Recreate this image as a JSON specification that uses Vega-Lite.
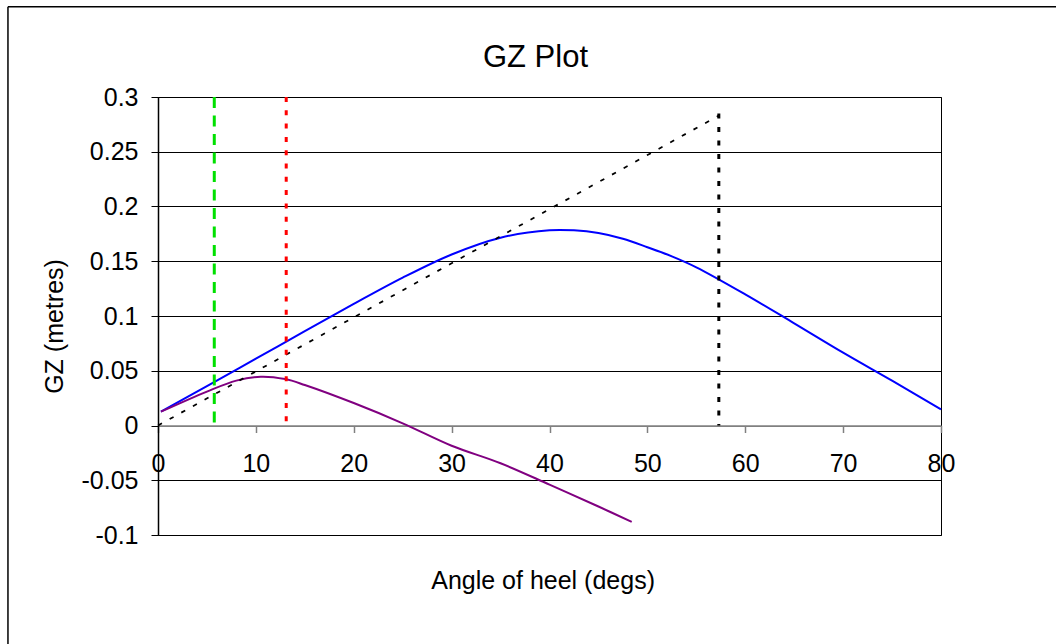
{
  "$schema": "https://vega.github.io/schema/vega-lite/v6.json",
  "width": 783,
  "height": 438,
  "autosize": {"type": "none"},
  "padding": {"left": 158, "top": 97, "right": 115, "bottom": 109},
  "background": "white",
  "title": {
    "text": "GZ Plot",
    "font": "Liberation Sans",
    "fontSize": 31,
    "fontWeight": "normal",
    "color": "#000000",
    "anchor": "middle",
    "baseline": "alphabetic",
    "dx": -14,
    "offset": -92
  },
  "config": {
    "view": {"stroke": "#000000", "strokeWidth": 1},
    "font": "Liberation Sans"
  },
  "datasets": {
    "curves": [
      {"series": "GZ", "angle": 0.3, "gz": 0.0126},
      {"series": "GZ", "angle": 5, "gz": 0.036},
      {"series": "GZ", "angle": 10, "gz": 0.061},
      {"series": "GZ", "angle": 15, "gz": 0.0862},
      {"series": "GZ", "angle": 20, "gz": 0.111},
      {"series": "GZ", "angle": 25, "gz": 0.135},
      {"series": "GZ", "angle": 30, "gz": 0.1562},
      {"series": "GZ", "angle": 35, "gz": 0.1715},
      {"series": "GZ", "angle": 40, "gz": 0.1783},
      {"series": "GZ", "angle": 42.5, "gz": 0.1782},
      {"series": "GZ", "angle": 45, "gz": 0.1757},
      {"series": "GZ", "angle": 47.5, "gz": 0.1705},
      {"series": "GZ", "angle": 50, "gz": 0.1628},
      {"series": "GZ", "angle": 52.5, "gz": 0.1545},
      {"series": "GZ", "angle": 55, "gz": 0.1445},
      {"series": "GZ", "angle": 60, "gz": 0.1198},
      {"series": "GZ", "angle": 65, "gz": 0.0933},
      {"series": "GZ", "angle": 70, "gz": 0.0665},
      {"series": "GZ", "angle": 75, "gz": 0.0409},
      {"series": "GZ", "angle": 80, "gz": 0.0148},
      {"series": "GZ2", "angle": 0.3, "gz": 0.0126},
      {"series": "GZ2", "angle": 5, "gz": 0.031},
      {"series": "GZ2", "angle": 8, "gz": 0.041},
      {"series": "GZ2", "angle": 10.5, "gz": 0.0446},
      {"series": "GZ2", "angle": 13, "gz": 0.0424},
      {"series": "GZ2", "angle": 15, "gz": 0.037},
      {"series": "GZ2", "angle": 20, "gz": 0.0205},
      {"series": "GZ2", "angle": 25, "gz": 0.002},
      {"series": "GZ2", "angle": 30, "gz": -0.0185},
      {"series": "GZ2", "angle": 35, "gz": -0.0345},
      {"series": "GZ2", "angle": 40, "gz": -0.054},
      {"series": "GZ2", "angle": 45, "gz": -0.074},
      {"series": "GZ2", "angle": 48.4, "gz": -0.088}
    ],
    "segments": [
      {"series": "GM", "angle": 0, "gz": 0},
      {"series": "GM", "angle": 57.3, "gz": 0.283},
      {"series": "GMvert", "angle": 57.3, "gz": 0.285},
      {"series": "GMvert", "angle": 57.3, "gz": 0},
      {"series": "Green", "angle": 5.75, "gz": 0.3},
      {"series": "Green", "angle": 5.75, "gz": 0},
      {"series": "Red", "angle": 13.1, "gz": 0.3},
      {"series": "Red", "angle": 13.1, "gz": 0}
    ],
    "frame": [{"part": "border"}]
  },
  "layer": [
    {
      "data": {"name": "curves"},
      "transform": [{"filter": "datum.series === 'GZ'"}],
      "mark": {"type": "line", "interpolate": "catmull-rom", "color": "#0000FF", "strokeWidth": 2},
      "encoding": {
        "x": {
          "field": "angle",
          "type": "quantitative",
          "scale": {"domain": [0, 80], "nice": false, "zero": false},
          "axis": {
            "title": "Angle of heel (degs)",
            "titleFont": "Liberation Sans",
            "titleFontSize": 25,
            "titleFontWeight": "normal",
            "titleColor": "#000000",
            "titleX": 384.6,
            "titleY": 162.5,
            "titleAlign": "center",
            "titleBaseline": "alphabetic",
            "titleAnchor": null,
            "offset": -109.5,
            "values": [0, 10, 20, 30, 40, 50, 60, 70, 80],
            "grid": false,
            "domainColor": "#808080",
            "domainWidth": 1.5,
            "tickColor": "#808080",
            "tickWidth": 1.5,
            "tickSize": 7,
            "labelFont": "Liberation Sans",
            "labelFontSize": 25,
            "labelColor": "#000000",
            "labelBaseline": "alphabetic",
            "labelPadding": 38.5,
            "labelFlush": false,
            "labelOverlap": false
          }
        },
        "y": {
          "field": "gz",
          "type": "quantitative",
          "scale": {"domain": [-0.1, 0.3], "nice": false, "zero": false},
          "axis": {
            "title": "GZ (metres)",
            "titleFont": "Liberation Sans",
            "titleFontSize": 25,
            "titleFontWeight": "normal",
            "titleColor": "#000000",
            "titleX": -96,
            "titleY": 229,
            "titleAlign": "center",
            "titleBaseline": "alphabetic",
            "titleAngle": -90,
            "values": [-0.1, -0.05, 0, 0.05, 0.1, 0.15, 0.2, 0.25, 0.3],
            "labelExpr": "'' + datum.value",
            "grid": true,
            "gridColor": {"condition": {"test": "datum.value === 0", "value": "#808080"}, "value": "#000000"},
            "gridWidth": 1,
            "domainColor": "#000000",
            "domainWidth": 1.5,
            "tickColor": "#000000",
            "tickWidth": 1,
            "tickSize": 7,
            "labelFont": "Liberation Sans",
            "labelFontSize": 25,
            "labelColor": "#000000",
            "labelBaseline": "middle",
            "labelPadding": 13,
            "labelFlush": false,
            "labelOverlap": false
          }
        }
      }
    },
    {
      "data": {"name": "curves"},
      "transform": [{"filter": "datum.series === 'GZ2'"}],
      "mark": {"type": "line", "interpolate": "catmull-rom", "color": "#800080", "strokeWidth": 2},
      "encoding": {
        "x": {"field": "angle", "type": "quantitative"},
        "y": {"field": "gz", "type": "quantitative"}
      }
    },
    {
      "data": {"name": "segments"},
      "transform": [{"filter": "datum.series === 'GM'"}],
      "mark": {"type": "line", "color": "#000000", "strokeWidth": 1.75, "strokeDash": [4.5, 8.8]},
      "encoding": {
        "x": {"field": "angle", "type": "quantitative"},
        "y": {"field": "gz", "type": "quantitative"}
      }
    },
    {
      "data": {"name": "segments"},
      "transform": [{"filter": "datum.series === 'GMvert'"}],
      "mark": {"type": "line", "color": "#000000", "strokeWidth": 3, "strokeDash": [5, 8.5]},
      "encoding": {
        "x": {"field": "angle", "type": "quantitative"},
        "y": {"field": "gz", "type": "quantitative"},
        "order": {"field": "gz", "sort": "descending"}
      }
    },
    {
      "data": {"name": "segments"},
      "transform": [{"filter": "datum.series === 'Green'"}],
      "mark": {"type": "line", "color": "#00E000", "strokeWidth": 3, "strokeDash": [11, 7.5]},
      "encoding": {
        "x": {"field": "angle", "type": "quantitative"},
        "y": {"field": "gz", "type": "quantitative"},
        "order": {"field": "gz", "sort": "descending"}
      }
    },
    {
      "data": {"name": "segments"},
      "transform": [{"filter": "datum.series === 'Red'"}],
      "mark": {"type": "line", "color": "#FF0000", "strokeWidth": 3, "strokeDash": [5, 8.3]},
      "encoding": {
        "x": {"field": "angle", "type": "quantitative"},
        "y": {"field": "gz", "type": "quantitative"},
        "order": {"field": "gz", "sort": "descending"}
      }
    },
    {
      "data": {"name": "frame"},
      "mark": {"type": "rule", "color": "#000000", "strokeWidth": 1.5, "clip": false},
      "encoding": {
        "x": {"datum": -15.33, "type": "quantitative"},
        "y": {"datum": 0.3825, "type": "quantitative"},
        "y2": {"datum": -0.2}
      }
    },
    {
      "data": {"name": "frame"},
      "mark": {"type": "rule", "color": "#000000", "strokeWidth": 1.5, "clip": false},
      "encoding": {
        "y": {"datum": 0.3825, "type": "quantitative"},
        "x": {"datum": -15.33, "type": "quantitative"},
        "x2": {"datum": 91.8}
      }
    }
  ]
}
